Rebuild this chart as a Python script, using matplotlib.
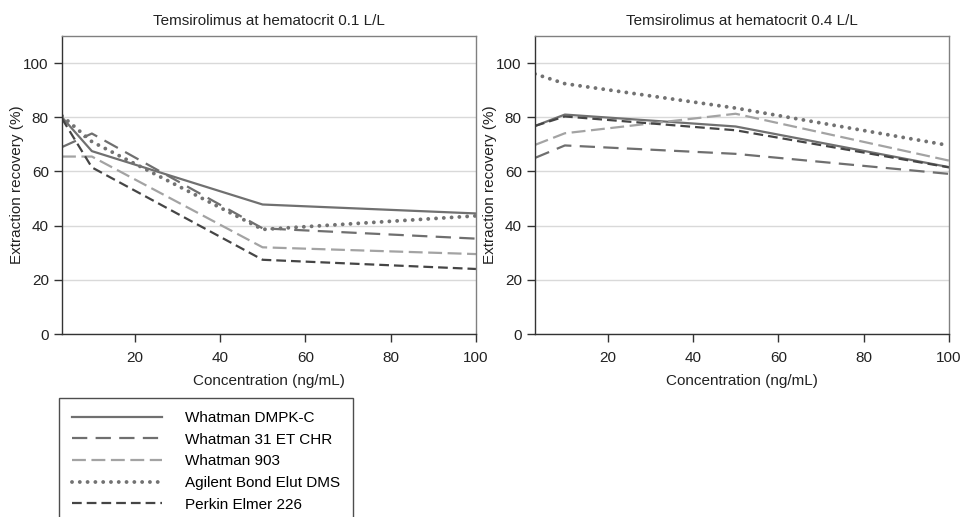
import matplotlib.pyplot as plt
from matplotlib.lines import Line2D

plt.rcParams['font.family'] = ['Liberation Sans', 'DejaVu Sans']
plt.rcParams['lines.scale_dashes'] = False

conc = [3, 10, 50, 100]
series = ['Whatman DMPK-C', 'Whatman 31 ET CHR', 'Whatman 903',
          'Agilent Bond Elut DMS', 'Perkin Elmer 226']

# hematocrit 0.1 L/L
hct01 = {
    'Whatman DMPK-C': [80, 67.5, 47.8, 44.5],
    'Whatman 31 ET CHR': [69, 74, 39, 35.2],
    'Whatman 903': [65.5, 65.5, 32, 29.5],
    'Agilent Bond Elut DMS': [80.5, 71, 38.6, 43.6],
    'Perkin Elmer 226': [79.5, 61.5, 27.4, 24],
}
# hematocrit 0.4 L/L
hct04 = {
    'Whatman DMPK-C': [76.8, 81, 76.6, 61.6],
    'Whatman 31 ET CHR': [65, 69.6, 66.5, 59.1],
    'Whatman 903': [69.8, 74.1, 81.3, 64],
    'Agilent Bond Elut DMS': [96, 92.4, 83.4, 69.6],
    'Perkin Elmer 226': [76.8, 80.3, 75.2, 61.5],
}

styles = {
    'Whatman DMPK-C': dict(color='#707070', lw=1.6, ls='-'),
    'Whatman 31 ET CHR': dict(color='#6f6f6f', lw=1.6, ls=(0, (11, 6))),
    'Whatman 903': dict(color='#a3a3a3', lw=1.6, ls=(0, (10, 4))),
    'Agilent Bond Elut DMS': dict(color='#727272', lw=2.8, ls=(0, (0.01, 5.6)),
                                  dash_capstyle='round'),
    'Perkin Elmer 226': dict(color='#454545', lw=1.6, ls=(0, (7, 3.6))),
}

fs = 11
fig = plt.figure(figsize=(9.62, 5.17), dpi=100)
ax1 = fig.add_axes([62 / 962, 1 - 334 / 517, 414 / 962, 298 / 517])
ax2 = fig.add_axes([535 / 962, 1 - 334 / 517, 414 / 962, 298 / 517])

for ax, data, title in [(ax1, hct01, 'Temsirolimus at hematocrit 0.1 L/L'),
                        (ax2, hct04, 'Temsirolimus at hematocrit 0.4 L/L')]:
    for name in series:
        ax.plot(conc, data[name], **styles[name])
    ax.set_xlim(3, 100)
    ax.set_ylim(0, 110)
    ax.set_xticks([20, 40, 60, 80, 100])
    ax.set_yticks([0, 20, 40, 60, 80, 100])
    ax.yaxis.grid(True, color='#d9d9d9', lw=1)
    ax.set_axisbelow(True)
    ax.tick_params(direction='out', length=6, width=1, labelsize=fs,
                   color='#333333', labelcolor='#222222')
    ax.tick_params(axis='x', pad=6)
    for s in ['top', 'right']:
        ax.spines[s].set_color('#808080')
        ax.spines[s].set_linewidth(1)
    for s in ['left', 'bottom']:
        ax.spines[s].set_color('#333333')
        ax.spines[s].set_linewidth(1)
    ax.set_title(title, fontsize=fs, pad=8, color='#222222')
    ax.set_xlabel('Concentration (ng/mL)', fontsize=fs, labelpad=7, color='#222222')
    ax.set_ylabel('Extraction recovery (%)', fontsize=fs, color='#222222')
    ax.yaxis.set_label_coords(-0.092, 0.5)

handles = [Line2D([], [], **styles[name]) for name in series]
leg = fig.legend(handles, series, loc='upper left',
                 bbox_to_anchor=(59 / 962, 1 - 398 / 517),
                 frameon=True, fancybox=False, fontsize=fs,
                 handlelength=5.9, handletextpad=1.5, labelspacing=0.5,
                 borderpad=0.85, borderaxespad=0)
leg.get_frame().set_edgecolor('#222222')
leg.get_frame().set_linewidth(1)

fig.savefig('out.png', dpi=100)
